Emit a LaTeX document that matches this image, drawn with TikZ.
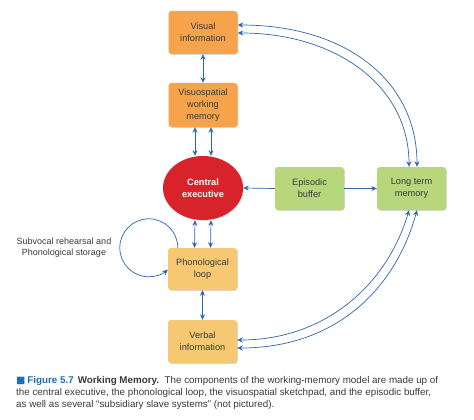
\documentclass[tikz,border=0pt]{standalone}
\usepackage{fontspec}
\setmainfont{Liberation Sans}
\newfontfamily\djv{DejaVu Sans}
\usetikzlibrary{arrows.meta,shadows,shapes.geometric}
\definecolor{orngA}{HTML}{F6A34B}
\definecolor{orngB}{HTML}{F6C872}
\definecolor{grn}{HTML}{B8D77C}
\definecolor{redce}{HTML}{D9232A}
\definecolor{arrblue}{HTML}{2D66AE}
\definecolor{txt}{HTML}{3A3A3A}
\definecolor{figblue}{HTML}{1E6DB6}
\tikzset{
  box/.style={rectangle, rounded corners=3pt, minimum width=69pt, minimum height=43pt,
    align=center, font=\fontsize{9.2}{12}\selectfont, text=txt, inner sep=2pt,
    drop shadow={shadow xshift=0.8pt, shadow yshift=-0.8pt, fill=black!30, opacity=0.5}},
  obox/.style={box, fill=orngA},
  ybox/.style={box, fill=orngB},
  gbox/.style={box, fill=grn},
  tip/.tip={Stealth[length=5.5pt,width=5pt]},
  arr/.style={draw=arrblue, line width=0.7pt, -tip},
  darr/.style={draw=arrblue, line width=0.7pt, tip-tip},
}
\begin{document}
\begin{tikzpicture}[x=1pt,y=-1pt]
\useasboundingbox[fill=white] (0,0) rectangle (474,420);

\node[obox] (vis) at (203,32.5) {Visual\\information};
\node[obox, minimum height=44pt] (vsp) at (203,105) {Visuospatial\\working\\memory};
\node[ellipse, fill=redce, minimum width=80pt, minimum height=64pt, inner sep=0pt,
  align=center, text=white, font=\fontsize{9.2}{12}\selectfont\bfseries,
  drop shadow={shadow xshift=0.8pt, shadow yshift=-0.8pt, fill=black!30, opacity=0.5}]
  (ce) at (203,188) {Central\\executive};
\node[gbox] (epi) at (309.5,188.5) {Episodic\\buffer};
\node[gbox] (ltm) at (411.5,188.5) {Long term\\memory};
\node[ybox, minimum height=42pt] (pho) at (202.5,269) {Phonological\\loop};
\node[ybox] (verb) at (202.5,341.5) {Verbal\\information};

\node[align=center, text=txt, font=\fontsize{9}{11}\selectfont] (lbl) at (64,248)
  {Subvocal rehearsal and\\Phonological storage};

% vertical connectors
\draw[darr] (vis.south) -- (vsp.north);
\draw[darr] ([xshift=-8pt]vsp.south) -- ([xshift=-8pt]ce.north);
\draw[darr] ([xshift=8pt]vsp.south) -- ([xshift=8pt]ce.north);
\draw[darr] ([xshift=-8pt]ce.south) -- ([xshift=-8pt]pho.north);
\draw[darr] ([xshift=8pt]ce.south) -- ([xshift=8pt]pho.north);
\draw[darr] (pho.south) -- (verb.north);

% episodic buffer
\draw[arr] (epi.west) -- (ce.east);
\draw[arr] (epi.east) -- (ltm.west);

% long term memory to visual information
\draw[darr] ([yshift=7.5pt]vis.east) .. controls (345,25) and (417,80) .. ([xshift=5.5pt]ltm.north);
\draw[darr] ([yshift=-0.5pt]vis.east) .. controls (336,33) and (409,86) .. ([xshift=-2.5pt]ltm.north);

% long term memory to verbal information
\draw[darr] ([yshift=-6.5pt]verb.east) .. controls (335,348) and (395,290) .. ([xshift=5.5pt]ltm.south);
\draw[darr] ([yshift=1.5pt]verb.east) .. controls (325,340) and (387,285) .. ([xshift=-2.5pt]ltm.south);

% self loop
\draw[arr] ([xshift=10pt]pho.north west) arc[start angle=0, end angle=311, radius=29pt];

% caption
\node[anchor=north west, align=left, text=txt, inner sep=0pt,
  font=\fontsize{9.8}{12}\selectfont] (cap) at (16,376)
  {{\color{figblue}{\djv■}\hspace{2pt}\textbf{Figure 5.7}}\hspace{4pt}\textbf{Working Memory.}\hspace{2pt} The components of the working-memory model are made up of\\
  the central executive, the phonological loop, the visuospatial sketchpad, and the episodic buffer,\\
  as well as several “subsidiary slave systems” (not pictured).};
\end{tikzpicture}
\end{document}
